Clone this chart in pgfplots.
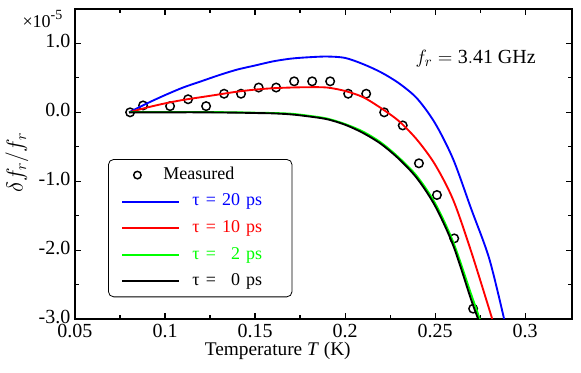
\documentclass[border=0pt]{standalone}
\usepackage{fontspec}
\setmainfont{Liberation Serif}
\usepackage{pgfplots}
\pgfplotsset{compat=1.18}
\definecolor{myblue}{RGB}{0,0,255}
\definecolor{myred}{RGB}{255,0,0}
\definecolor{mygreen}{RGB}{0,255,0}
\newcommand{\lent}[1]{\makebox[74.75pt][l]{#1}}
\newcommand{\lsp}{\hspace{4.6pt}}
\begin{document}
\begin{tikzpicture}
\begin{axis}[
  scale only axis, width=372.75pt, height=232.5pt,
  xmin=0.05, xmax=0.326, ymin=-3, ymax=1.5,
  clip mode=individual,
  xtick={0.05,0.1,0.15,0.2,0.25,0.3}, minor x tick num=1,
  ytick={-3,-2,-1,0,1}, minor y tick num=1,
  tick align=inside,
  major tick length=4.5pt, minor tick length=3pt,
  axis line style={line width=1.3pt},
  every tick/.style={line width=0.9pt, black},
  tick label style={font=\fontsize{15}{18}\selectfont},
  /pgf/number format/assume math mode=true,
  yticklabel style={/pgf/number format/fixed, /pgf/number format/fixed zerofill, /pgf/number format/precision=1, yshift=1.6pt},
  xticklabel style={/pgf/number format/fixed},
  scaled y ticks=false,
  xlabel={Temperature \textit{T} (K)},
  xlabel style={font=\fontsize{14.5}{17}\selectfont, at={(axis description cs:0.408,-0.119)}, anchor=base},
  ylabel={$\delta f_r/f_r$},
  ylabel style={font=\fontsize{17}{20}\selectfont, at={(axis description cs:-0.117,0.504)}, anchor=center},
  legend cell align=left,
  legend style={at={(axis description cs:0.0664,0.5161)}, anchor=north west,
    draw=black, line width=0.6pt, rounded corners=4pt,
    inner xsep=0pt, inner ysep=5pt, row sep=6.4pt, column sep=0pt,
    nodes={inner sep=0pt, text height=10pt, text depth=3.5pt},
    font=\fontsize{13.5}{16}\selectfont},
  legend image code/.code={\path[draw=none] (0pt,0pt) -- (63pt,0pt); \draw[#1] (10.5pt,0pt) -- (53.25pt,0pt);},
]
\addplot[only marks, mark=o, mark size=3.2pt, mark options={line width=1.1pt}, black,
  legend image code/.code={\path[draw=none] (0pt,0pt) -- (63pt,0pt); \draw[black, line width=1.1pt] (21.75pt,0pt) circle (2.8pt);}]
  coordinates {
  (0.0806,0) (0.0878,0.10) (0.1028,0.09) (0.1128,0.19) (0.1228,0.09)
  (0.1328,0.27) (0.1422,0.27) (0.1520,0.36) (0.1617,0.36) (0.1717,0.45)
  (0.1817,0.45) (0.1917,0.45) (0.2017,0.27) (0.2117,0.27) (0.2217,0.0)
  (0.2320,-0.19) (0.2410,-0.74) (0.2510,-1.20) (0.2606,-1.83) (0.2711,-2.85)
  };
\addlegendentry{\hspace{-21.75pt}Measured}
\addplot[myblue, line width=1.4pt, smooth] coordinates {
  (0.08,0) (0.09,0.13) (0.10,0.25) (0.11,0.36) (0.12,0.45) (0.13,0.54)
  (0.14,0.62) (0.15,0.68) (0.16,0.74) (0.17,0.78) (0.18,0.80) (0.19,0.81)
  (0.20,0.79) (0.21,0.70) (0.22,0.58) (0.23,0.42) (0.24,0.20) (0.25,-0.16)
  (0.26,-0.68) (0.27,-1.40) (0.28,-2.12) (0.2883,-3.0)
  };
\addlegendentry{\lent{\textcolor{myblue}{τ\lsp=\lsp20\lsp ps}}}
\addplot[myred, line width=1.4pt, smooth] coordinates {
  (0.08,0) (0.09,0.07) (0.10,0.13) (0.11,0.18) (0.12,0.22) (0.13,0.26)
  (0.14,0.30) (0.15,0.33) (0.16,0.35) (0.17,0.36) (0.18,0.365) (0.19,0.36)
  (0.20,0.31) (0.21,0.22) (0.22,0.06) (0.23,-0.13) (0.24,-0.40) (0.25,-0.76)
  (0.26,-1.27) (0.27,-2.02) (0.2817,-3.0)
  };
\addlegendentry{\lent{\textcolor{myred}{τ\lsp=\lsp10\lsp ps}}}
\addplot[mygreen, line width=1.4pt, smooth] coordinates {
  (0.08,0.005) (0.10,0.005) (0.12,0.005) (0.14,0.0) (0.15,-0.005) (0.16,-0.01)
  (0.17,-0.02) (0.18,-0.05) (0.19,-0.09) (0.20,-0.17) (0.21,-0.28)
  (0.22,-0.44) (0.23,-0.66) (0.24,-0.93) (0.25,-1.32) (0.26,-1.88)
  (0.27,-2.64) (0.2748,-3.0)
  };
\addlegendentry{\lent{\textcolor{mygreen}{τ\lsp=\lsp\hphantom{0}2\lsp ps}}}
\addplot[black, line width=1.4pt, smooth] coordinates {
  (0.08,0) (0.10,0) (0.12,0) (0.14,-0.005) (0.15,-0.01) (0.16,-0.015)
  (0.17,-0.03) (0.18,-0.06) (0.19,-0.10) (0.20,-0.18) (0.21,-0.30)
  (0.22,-0.46) (0.23,-0.68) (0.24,-0.96) (0.25,-1.36) (0.26,-1.93)
  (0.27,-2.72) (0.2739,-3.0)
  };
\addlegendentry{\lent{τ\lsp=\lsp\hphantom{0}0\lsp ps}}
\node[anchor=base east, font=\fontsize{13.5}{16}\selectfont] at (axis description cs:-0.016,0.939) {×10\raisebox{0.45em}{\fontsize{10.5}{12}\selectfont -5}};
\node[font=\fontsize{15}{18}\selectfont] at (axis cs:0.2725,0.78) {$f_r = \mathrm{3.41\ GHz}$};
\end{axis}
\pgfresetboundingbox
\path[use as bounding box] ([shift={(-56.25pt,-39.75pt)}]current axis.south west) rectangle ([shift={(6.75pt,6.75pt)}]current axis.north east);
\end{tikzpicture}
\end{document}
